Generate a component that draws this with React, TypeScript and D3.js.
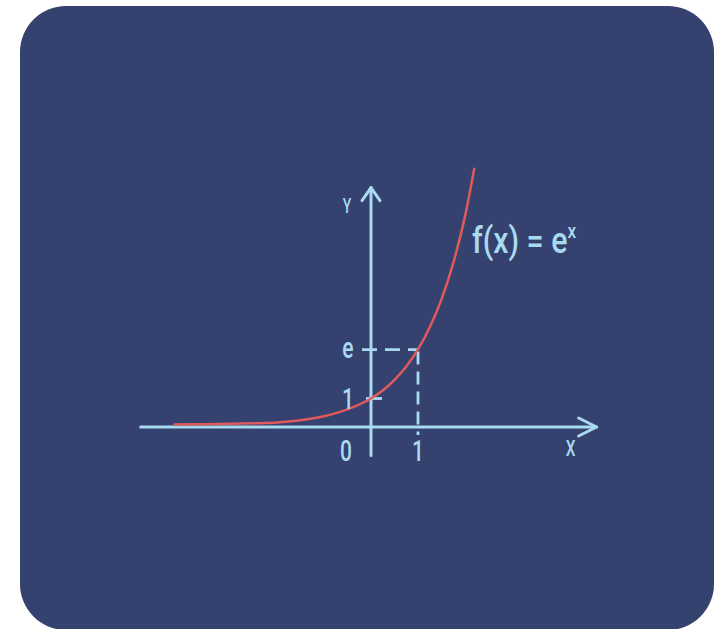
import React from 'react';
import * as d3 from 'd3';

// curve samples (x in units, y in units)
const curveX = [-4.2, -3.5, -3, -2.5, -2, -1.5, -1, -0.5, 0, 0.25, 0.5, 0.75, 1, 1.25, 1.5, 1.75, 2, 2.2];
const curveY = [0.09, 0.1, 0.11, 0.13, 0.16, 0.24, 0.38, 0.62, 1, 1.28, 1.65, 2.12, 2.72, 3.5, 4.48, 5.75, 7.39, 9.1];

const xTickValues = [0, 1];
const xTickLabels = ['0', '1'];
const yTickValues = [1, Math.E];
const yTickLabels = ['1', 'e'];
const axisLabels = ['X', 'Y'];
const formula = ['f(x) = e', 'x'];

const W = 720;
const H = 629;
const BG = '#35416f';
const AXIS = '#a9dbf0';
const RED = '#e05a5c';
const FONT = 'Roboto, "DejaVu Sans", sans-serif';

const App = () => {
  const x = d3.scaleLinear().domain([0, 1]).range([371, 418]);
  const y = d3.scaleLinear().domain([0, 1]).range([427, 398.5]);

  const line = d3.line<number>()
    .x((_, i) => x(curveX[i]))
    .y(d => y(d))
    .curve(d3.curveMonotoneX);

  const x0 = x(0);
  const y0 = y(0);
  const xLeft = x(-4.9);
  const xRight = x(4.8);
  const yTop = y(8.4);
  const yBottom = y(-1);

  // condensed look: squeeze text horizontally
  const label = (tx: number, ty: number, size: number, txt: string, key: string, sx = 0.7) => (
    <text
      key={key}
      transform={`translate(${tx},${ty}) scale(${sx},1)`}
      fontFamily={FONT}
      fontSize={size}
      fontWeight={500}
      fill={AXIS}
      textAnchor="middle"
    >
      {txt}
    </text>
  );

  return (
    <div style={{ position: 'absolute', left: 0, top: 0 }}>
      <svg width={W} height={H} style={{ display: 'block' }}>
        <rect x={0} y={0} width={W} height={H} fill="#ffffff" />
        <rect x={20} y={6} width={694} height={624} rx={46} ry={46} fill={BG} />

        {/* dashed guides to (1, e) */}
        <line x1={x0 - 9} x2={x(1)} y1={y(Math.E)} y2={y(Math.E)}
          stroke={AXIS} strokeWidth={2.8} strokeDasharray="15 8" />
        <line x1={x(1)} x2={x(1)} y1={y(Math.E) + 2} y2={y0 + 8}
          stroke={AXIS} strokeWidth={2.8} strokeDasharray="13 7" />

        {/* axes */}
        <line x1={xLeft} x2={xRight} y1={y0} y2={y0} stroke={AXIS} strokeWidth={3} strokeLinecap="round" />
        <polyline points={`${xRight - 18},${y0 - 9} ${xRight},${y0} ${xRight - 18},${y0 + 9}`}
          fill="none" stroke={AXIS} strokeWidth={3} strokeLinecap="round" strokeLinejoin="round" />
        <line x1={x0} x2={x0} y1={yBottom} y2={yTop} stroke={AXIS} strokeWidth={3} strokeLinecap="round" />
        <polyline points={`${x0 - 9},${yTop + 13} ${x0},${yTop} ${x0 + 9},${yTop + 13}`}
          fill="none" stroke={AXIS} strokeWidth={3} strokeLinecap="round" strokeLinejoin="round" />

        {/* tick at y = 1 */}
        <line x1={x0 - 5} x2={x0 + 11} y1={y(1)} y2={y(1)} stroke={AXIS} strokeWidth={2.8} />

        {/* curve */}
        <path d={line(curveY) || ''} fill="none" stroke={RED} strokeWidth={2.5} />

        {/* tick labels */}
        {xTickValues.map((v, i) => label(x(v) + (v === 0 ? -25 : 0), y0 + 34, 30, xTickLabels[i], `xt${i}`))}
        {yTickValues.map((v, i) => label(x0 - 23, y(v) + (i === 0 ? 10 : 8), 30, yTickLabels[i], `yt${i}`))}

        {/* axis names */}
        {label(xRight - 26, y0 + 29, 22, axisLabels[0], 'ax')}
        {label(x0 - 24, yTop + 25, 20, axisLabels[1], 'ay')}

        {/* formula */}
        <text transform="translate(472,253) scale(0.82,1)" fontFamily={FONT} fontSize={37} fontWeight={500} fill={AXIS}>
          {formula[0]}
          <tspan fontSize={21} dy={-15}>{formula[1]}</tspan>
        </text>
      </svg>
    </div>
  );
};

export default App;
